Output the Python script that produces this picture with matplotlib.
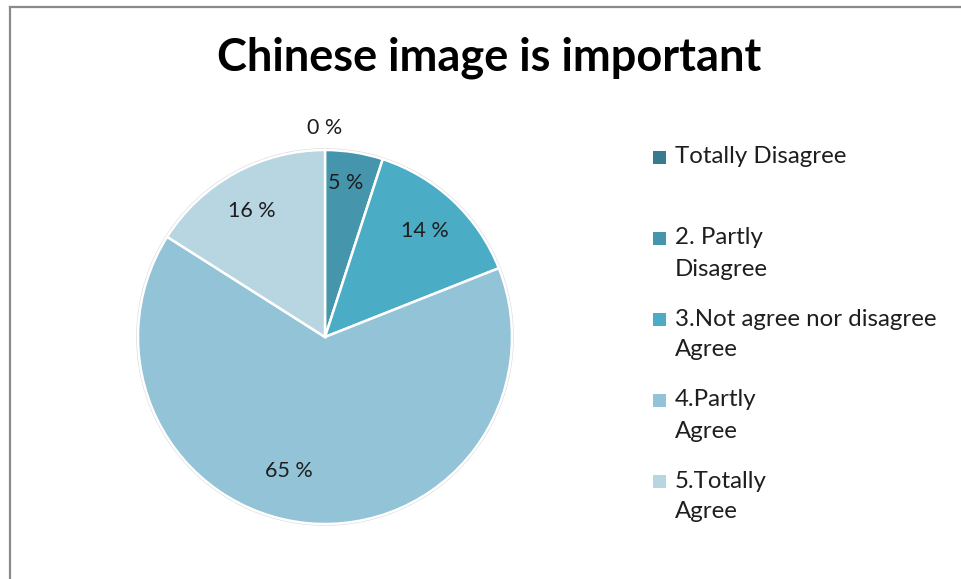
import matplotlib
matplotlib.use("Agg")
import matplotlib.pyplot as plt
import numpy as np
from matplotlib.lines import Line2D
from matplotlib.patches import Rectangle, Circle

# survey answers, share of respondents in percent
categories = [
    "Totally Disagree",
    "2. Partly\nDisagree",
    "3.Not agree nor disagree\nAgree",
    "4.Partly\nAgree",
    "5.Totally\nAgree",
]
shares = [0, 5, 14, 65, 16]
title = "Chinese image is important"

colors = ["#377B91", "#4596AD", "#4BACC6", "#93C3D6", "#B8D5E2"]
# label placement: radius (fraction of pie radius) and angle nudge in degrees
label_radius = [1.12, 0.83, 0.78, 0.74, 0.78]
label_nudge = [0, 1.5, 0, -9.6, 1.2]

W, H = 962, 579
DPI = 100
plt.rcParams["font.family"] = ["Lato", "DejaVu Sans"]

fig = plt.figure(figsize=(W / DPI, H / DPI), dpi=DPI, facecolor="white")


def px(x, y):
    """pixel position (origin top-left) -> figure fraction"""
    return x / W, 1 - y / H


# pie axes: center at (325, 337) px, radius 187 px
cx, cy, r_px = 325, 337, 187
half = 1.15 * r_px
ax = fig.add_axes([(cx - half) / W, (H - cy - half) / H, 2 * half / W, 2 * half / H])

wedges, _ = ax.pie(
    shares,
    colors=colors,
    startangle=90,
    counterclock=False,
    radius=1.0,
    wedgeprops=dict(edgecolor="white", linewidth=1.8),
)
# pie() resets the limits, so fix them afterwards
ax.set_xlim(-1.15, 1.15)
ax.set_ylim(-1.15, 1.15)
ax.set_aspect("equal")
ax.axis("off")
ax.add_patch(Circle((0, 0), 1.005, fill=False, edgecolor="#d8d8d8", linewidth=1.2, zorder=0))

for w, val, lr, nudge in zip(wedges, shares, label_radius, label_nudge):
    mid = np.deg2rad((w.theta1 + w.theta2) / 2 + nudge)
    ax.text(lr * np.cos(mid), lr * np.sin(mid), f"{val} %",
            ha="center", va="center", fontsize=15.5, color="#1e1e1e")

# title
fig.text(*px(489, 58), title, ha="center", va="center",
         fontsize=32.5, fontweight="bold", color="black")

# legend drawn by hand: square marker on the first line of each entry
first_line = 157
entry_step = 81
line_gap = 31
for i, (lab, col) in enumerate(zip(categories, colors)):
    y0 = first_line + i * entry_step
    x0, y0f = px(653, y0 + 7)
    fig.add_artist(Rectangle((x0, y0f), 13 / W, 13 / H, transform=fig.transFigure,
                             facecolor=col, edgecolor="none"))
    for j, line in enumerate(lab.split("\n")):
        fig.text(*px(675, y0 + j * line_gap), line, ha="left", va="center",
                 fontsize=17.3, color="#1e1e1e")

# chart frame, only top and left edges show
fig.add_artist(Line2D([9.5 / W, 1], [1 - 6.5 / H] * 2, transform=fig.transFigure,
                      color="#8a8a8a", linewidth=1.6))
fig.add_artist(Line2D([9.5 / W] * 2, [0, 1 - 6.5 / H], transform=fig.transFigure,
                      color="#8a8a8a", linewidth=1.6))

fig.savefig("out.png", dpi=DPI, facecolor="white")
